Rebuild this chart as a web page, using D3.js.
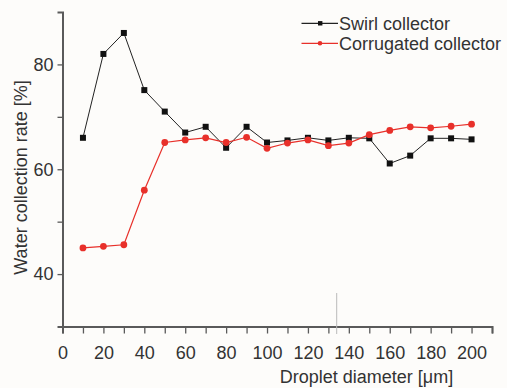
<!DOCTYPE html>
<html>
<head>
<meta charset="utf-8">
<script src="https://cdn.jsdelivr.net/npm/d3@7"></script>
<style>
  html, body { margin: 0; padding: 0; background: #fdfcfa; }
  svg { display: block; font-family: "Liberation Sans", Arial, sans-serif; }
</style>
</head>
<body>
<svg width="507" height="388"></svg>
<script>
const diameters = [10, 20, 30, 40, 50, 60, 70, 80, 90, 100, 110, 120, 130, 140, 150, 160, 170, 180, 190, 200];
const swirl = [66.0, 82.0, 86.0, 75.1, 71.0, 67.0, 68.1, 64.1, 68.1, 65.1, 65.5, 66.0, 65.5, 66.0, 65.9, 61.1, 62.6, 65.9, 65.9, 65.7];
const corrugated = [45.0, 45.3, 45.6, 56.0, 65.1, 65.6, 66.0, 65.1, 66.1, 64.0, 65.0, 65.6, 64.5, 65.0, 66.6, 67.4, 68.1, 67.9, 68.2, 68.6];
const xTicks = [0, 10, 20, 30, 40, 50, 60, 70, 80, 90, 100, 110, 120, 130, 140, 150, 160, 170, 180, 190, 200, 210];
const yTicks = [40, 50, 60, 70, 80];
const seriesNames = ['Swirl collector', 'Corrugated collector'];

const svg = d3.select('svg');
const textColor = '#333';
const axisColor = '#5a5a5a';
const red = '#e8302a';

const xScale = d3.scaleLinear().domain([0, 210]).range([62.5, 492]);
const yScale = d3.scaleLinear().domain([30, 90]).range([326.5, 12]);

// x axis
const xAxis = d3.axisBottom(xScale)
  .tickValues(xTicks)
  .tickSize(7)
  .tickPadding(13)
  .tickFormat(d => (d % 20 === 0 && d <= 200) ? d : '');
const gx = svg.append('g').attr('transform', `translate(0,${yScale(30)})`).call(xAxis);

// y axis
const yAxis = d3.axisLeft(yScale)
  .tickValues(yTicks)
  .tickSize(5)
  .tickPadding(4)
  .tickFormat(d => d % 20 === 0 ? d : '');
const gy = svg.append('g').attr('transform', `translate(${xScale(0)},0)`).call(yAxis);

[gx, gy].forEach(g => {
  g.select('.domain').attr('stroke', axisColor).attr('stroke-width', 2);
  g.selectAll('.tick line').attr('stroke', axisColor).attr('stroke-width', 1.3);
  g.selectAll('.tick text').attr('fill', textColor).style('font-size', '18px');
});

// axis titles
svg.append('text')
  .attr('x', 366.5).attr('y', 383)
  .attr('text-anchor', 'middle')
  .attr('fill', textColor).style('font-size', '18px')
  .text('Droplet diameter [\u03bcm]');

svg.append('text')
  .attr('transform', 'translate(27,177.5) rotate(-90)')
  .attr('text-anchor', 'middle')
  .attr('fill', textColor).style('font-size', '18px')
  .text('Water collection rate [%]');

// stray scan line
svg.append('line')
  .attr('x1', 336.7).attr('x2', 336.7).attr('y1', 293).attr('y2', 334)
  .attr('stroke', '#bbb').attr('stroke-width', 1);

const line = d3.line()
  .x((d, i) => xScale(diameters[i]))
  .y(d => yScale(d));

// swirl
svg.append('path').datum(swirl)
  .attr('d', line).attr('fill', 'none')
  .attr('stroke', '#222').attr('stroke-width', 1);
svg.selectAll('.sq').data(swirl).enter().append('rect')
  .attr('x', (d, i) => xScale(diameters[i]) - 3)
  .attr('y', d => yScale(d) - 3)
  .attr('width', 6).attr('height', 6)
  .attr('fill', '#111');

// corrugated
svg.append('path').datum(corrugated)
  .attr('d', line).attr('fill', 'none')
  .attr('stroke', red).attr('stroke-width', 1.2);
svg.selectAll('.ci').data(corrugated).enter().append('circle')
  .attr('cx', (d, i) => xScale(diameters[i]))
  .attr('cy', d => yScale(d))
  .attr('r', 3.4)
  .attr('fill', red);

// legend
const legend = svg.append('g');
seriesNames.forEach((name, i) => {
  const y = 23.3 + i * 20;
  const col = i === 0 ? '#222' : red;
  legend.append('line')
    .attr('x1', 301.5).attr('x2', 338).attr('y1', y).attr('y2', y)
    .attr('stroke', col).attr('stroke-width', 1.2);
  if (i === 0) {
    legend.append('rect').attr('x', 318).attr('y', y - 2.2).attr('width', 4.4).attr('height', 4.4).attr('fill', '#111');
  } else {
    legend.append('circle').attr('cx', 320).attr('cy', y).attr('r', 2.3).attr('fill', red);
  }
  legend.append('text')
    .attr('x', 339).attr('y', y)
    .attr('dy', '0.35em')
    .attr('fill', textColor).style('font-size', '18px')
    .text(name);
});
</script>
</body>
</html>
